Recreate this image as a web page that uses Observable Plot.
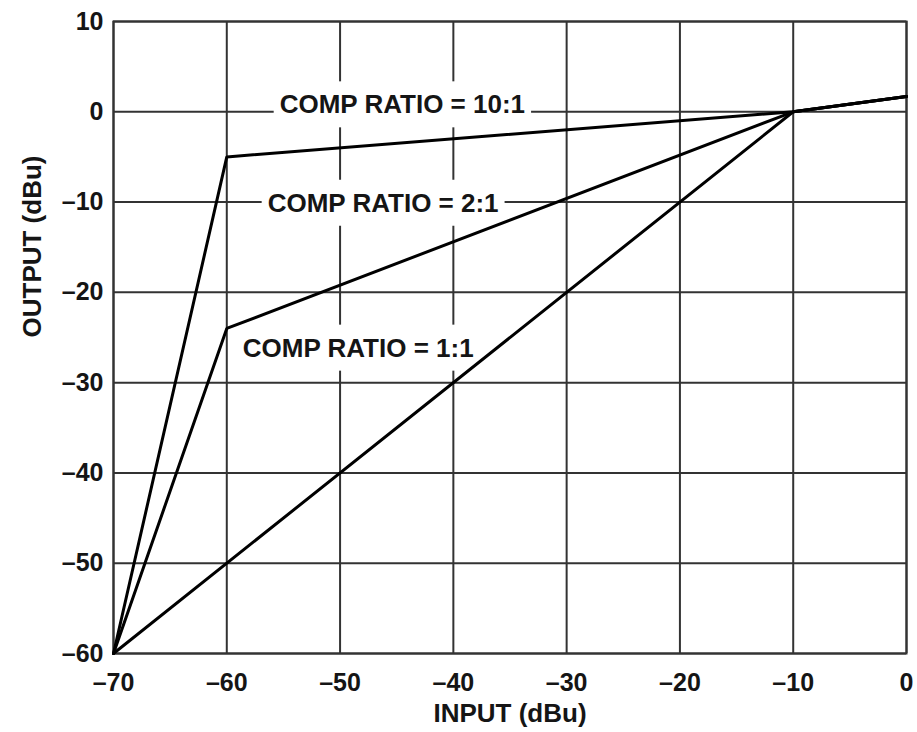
<!DOCTYPE html>
<html><head><meta charset="utf-8">
<script src="https://cdn.jsdelivr.net/npm/d3@7"></script>
<script src="https://cdn.jsdelivr.net/npm/@observablehq/plot@0.6"></script>
<style>
body{margin:0;background:#fff}
#chart svg{display:block}
</style>
</head><body><div id="chart"></div>
<script>
// Data
const seriesNames = ["10:1", "2:1", "1:1"];
const input10to1 = [-70, -60, -10, 0];
const output10to1 = [-60, -5, 0, 1.7];
const input2to1 = [-70, -60, -10, 0];
const output2to1 = [-60, -24, 0, 1.7];
const input1to1 = [-70, -10, 0];
const output1to1 = [-60, 0, 1.7];

const xTicks = [-70, -60, -50, -40, -30, -20, -10, 0];
const yTicks = [-60, -50, -40, -30, -20, -10, 0, 10];

const labelTexts = ["COMP RATIO = 10:1", "COMP RATIO = 2:1", "COMP RATIO = 1:1"];
const labelInput = [-44.5, -46.2, -48.4];
const labelOutput = [0.75, -10.15, -26.2];

const xLabel = "INPUT (dBu)";
const yLabel = "OUTPUT (dBu)";

// Build tables
const rows = [];
[[input10to1, output10to1], [input2to1, output2to1], [input1to1, output1to1]].forEach(([xs, ys], i) => {
  xs.forEach((x, j) => rows.push({series: seriesNames[i], input: x, output: ys[j]}));
});
const labels = labelTexts.map((t, i) => ({text: t, input: labelInput[i], output: labelOutput[i]}));

const fmt = d => d < 0 ? "\u2013" + (-d) : String(d);
const FONT = "'Liberation Sans', Arial, Helvetica, sans-serif";
const ink = "#151515";
const gridColor = "#333";

const plot = Plot.plot({
  width: 917,
  height: 732,
  marginLeft: 113,
  marginRight: 11,
  marginTop: 21,
  marginBottom: 79,
  style: {fontFamily: FONT, fontWeight: "bold", color: ink, background: "#fff"},
  x: {domain: [-70, 0], label: null},
  y: {domain: [-60, 10], label: null},
  marks: [
    Plot.gridX(xTicks, {stroke: gridColor, strokeOpacity: 1, strokeWidth: 2}),
    Plot.gridY(yTicks, {stroke: gridColor, strokeOpacity: 1, strokeWidth: 2}),
    Plot.frame({stroke: gridColor, strokeWidth: 2}),
    Plot.text(labels, {x: "input", y: "output", text: "text", fontSize: 26, fontWeight: "bold", fill: ink}),
    Plot.line(rows, {x: "input", y: "output", z: "series", stroke: "#000", strokeWidth: 3, strokeLinejoin: "miter"}),
    Plot.axisX(xTicks, {tickSize: 0, tickPadding: 20, tickFormat: fmt, fontSize: 25, fontWeight: "bold", fill: ink, label: null}),
    Plot.axisY(yTicks, {tickSize: 0, tickPadding: 10, tickFormat: fmt, fontSize: 25, fontWeight: "bold", fill: ink, label: null}),
    Plot.text([xLabel], {frameAnchor: "bottom", dy: 68, fontSize: 26, fontWeight: "bold", fill: ink}),
    Plot.text([yLabel], {frameAnchor: "left", dx: -81, rotate: -90, fontSize: 26, fontWeight: "bold", fill: ink})
  ]
});
document.getElementById("chart").append(plot);

// White boxes behind the ratio labels (interrupting the grid like the original)
plot.querySelectorAll("text").forEach(t => {
  if (!t.textContent.startsWith("COMP RATIO")) return;
  const b = t.getBBox();
  const r = document.createElementNS("http://www.w3.org/2000/svg", "rect");
  r.setAttribute("x", b.x - 6);
  r.setAttribute("y", b.y - 8);
  r.setAttribute("width", b.width + 12);
  r.setAttribute("height", b.height + 16);
  r.setAttribute("fill", "#fff");
  const tr = t.getAttribute("transform");
  if (tr) r.setAttribute("transform", tr);
  t.parentNode.insertBefore(r, t);
});
</script>
</body></html>
